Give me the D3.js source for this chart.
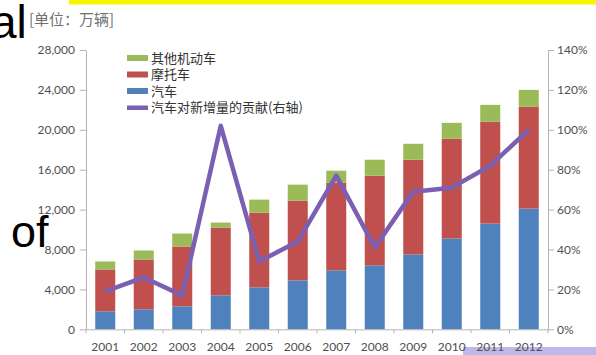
<!DOCTYPE html>
<html>
<head>
<meta charset="utf-8">
<script src="https://cdn.jsdelivr.net/npm/d3@7"></script>
<style>
  html, body { margin: 0; padding: 0; background: #fff; }
  svg { display: block; }
</style>
</head>
<body>
<svg id="chart" width="596" height="355"></svg>
<script>
// Years on the category axis
const years = ["2001","2002","2003","2004","2005","2006","2007","2008","2009","2010","2011","2012"];
// Vehicle stock by type, 万辆 (stacked bottom to top)
const cars        = [1800, 2000, 2300, 3400, 4200, 4900, 5900, 6400, 7500, 9100, 10600, 12100];
const motorcycles = [4200, 5000, 6000, 6800, 7500, 8000, 8800, 9000, 9500, 10000, 10200, 10200];
const others      = [800, 900, 1300, 500, 1300, 1600, 1200, 1600, 1600, 1600, 1700, 1700];
// Share of new-vehicle growth contributed by cars (right axis)
const carShare    = [0.19, 0.26, 0.17, 1.02, 0.34, 0.44, 0.77, 0.41, 0.69, 0.71, 0.82, 1.00];
// Axis ticks
const leftTicks  = [0, 4000, 8000, 12000, 16000, 20000, 24000, 28000];
const rightTicks = [0, 0.2, 0.4, 0.6, 0.8, 1.0, 1.2, 1.4];

const seriesNames = { others: "其他机动车", motorcycles: "摩托车", cars: "汽车" };
const colors = { cars: "#4f81bd", motorcycles: "#c0504d", others: "#9bbb59", line: "#7b5fb3" };

const svg = d3.select("#chart");

// Slide backdrop pieces around the chart
svg.append("rect").attr("x", 69).attr("y", 0).attr("width", 527).attr("height", 4.5).attr("fill", "#f7f500");
svg.append("rect").attr("x", 463).attr("y", 347).attr("width", 133).attr("height", 8).attr("fill", "#bdb8e9");
svg.append("text").attr("x", -9).attr("y", 38).attr("font-family", "Liberation Sans, Arial, sans-serif")
  .attr("font-size", 46).attr("fill", "#000").text("al");
svg.append("text").attr("x", 11).attr("y", 247).attr("font-family", "Liberation Sans, Arial, sans-serif")
  .attr("font-size", 45).attr("fill", "#000").text("of");

const plotLeft = 86, plotRight = 548, plotTop = 50, plotBottom = 329.3;

const x = d3.scaleBand().domain(years).range([plotLeft, plotRight]).paddingInner(0.48).paddingOuter(0.24);
const y = d3.scaleLinear().domain([0, 28000]).range([plotBottom, plotTop]);
const y2 = d3.scaleLinear().domain([0, 1.4]).range([plotBottom, plotTop]);

const rows = years.map((yr, i) => ({ year: yr, cars: cars[i], motorcycles: motorcycles[i], others: others[i] }));
const stack = d3.stack().keys(["cars", "motorcycles", "others"])(rows);

// Stacked bars
svg.append("g").selectAll("g").data(stack).join("g")
  .attr("fill", d => colors[d.key])
  .selectAll("rect").data(d => d).join("rect")
  .attr("x", d => x(d.data.year))
  .attr("width", x.bandwidth())
  .attr("y", d => y(d[1]))
  .attr("height", d => y(d[0]) - y(d[1]));

const tickFont = "Lato, 'Open Sans', sans-serif";

// Left axis
const gl = svg.append("g").attr("transform", `translate(${plotLeft},0)`)
  .call(d3.axisLeft(y).tickValues(leftTicks).tickFormat(d3.format(",")).tickSize(6).tickSizeOuter(0).tickPadding(5));
// Right axis
const gr = svg.append("g").attr("transform", `translate(${plotRight},0)`)
  .call(d3.axisRight(y2).tickValues(rightTicks).tickFormat(d3.format(".0%")).tickSize(6).tickSizeOuter(0).tickPadding(3));
// Bottom axis with ticks between categories
const gb = svg.append("g").attr("transform", `translate(0,${plotBottom})`)
  .call(d3.axisBottom(x).tickSize(0).tickPadding(13));
gb.selectAll(".bt").data(d3.range(years.length + 1)).join("line")
  .attr("class", "bt")
  .attr("x1", i => plotLeft + i * x.step()).attr("x2", i => plotLeft + i * x.step())
  .attr("y1", 0).attr("y2", 4).attr("stroke", "#b5b5b5");

[gl, gr, gb].forEach(g => {
  g.select(".domain").attr("stroke", "#b5b5b5");
  g.selectAll(".tick line").attr("stroke", "#b5b5b5");
  g.selectAll("text").attr("font-family", tickFont).attr("font-size", 12).attr("fill", "#505050");
});

// Contribution line on the right axis
const line = d3.line().x((d, i) => x(years[i]) + x.bandwidth() / 2).y(d => y2(d));
svg.append("path").datum(carShare)
  .attr("d", line).attr("fill", "none")
  .attr("stroke", colors.line).attr("stroke-width", 4.5).attr("stroke-linejoin", "round");

// Unit caption
svg.append("text").attr("x", 29).attr("y", 25)
  .attr("font-family", "'Noto Sans CJK SC', sans-serif").attr("font-size", 15).attr("fill", "#707070")
  .text("[单位：万辆]");

// Legend
const cjk = "'Noto Sans CJK SC', sans-serif";
const legendItems = [
  { key: "others", label: seriesNames.others, type: "bar" },
  { key: "motorcycles", label: seriesNames.motorcycles, type: "bar" },
  { key: "cars", label: seriesNames.cars, type: "bar" },
  { key: "line", label: "汽车对新增量的贡献(右轴)", type: "line" }
];
const lg = svg.append("g").attr("transform", "translate(127,58)");
legendItems.forEach((it, i) => {
  const yy = i * 16.5;
  if (it.type === "bar") {
    lg.append("rect").attr("x", 0).attr("y", yy - 3).attr("width", 21).attr("height", 6).attr("fill", colors[it.key]);
  } else {
    lg.append("rect").attr("x", 0).attr("y", yy - 2).attr("width", 21).attr("height", 4.5).attr("fill", colors.line);
  }
  lg.append("text").attr("x", 24).attr("y", yy).attr("dy", "0.36em")
    .attr("font-family", cjk).attr("font-size", 13).attr("fill", "#333").text(it.label);
});
</script>
</body>
</html>
